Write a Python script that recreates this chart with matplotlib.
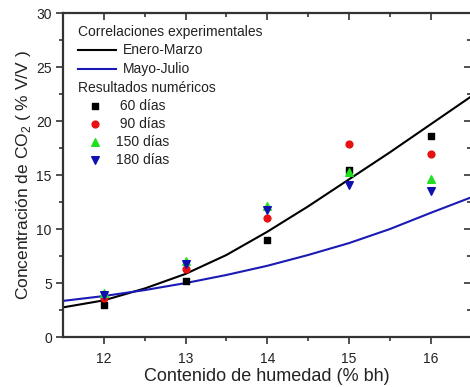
import numpy as np
import matplotlib
matplotlib.use('Agg')
import matplotlib.pyplot as plt

plt.rcParams['font.family'] = ['Liberation Sans', 'DejaVu Sans']
plt.rcParams['mathtext.fontset'] = 'custom'
plt.rcParams['mathtext.rm'] = 'Liberation Sans'

# humedad (% bh) donde se evaluaron los modelos numericos
humedad = [12, 13, 14, 15, 16]
co2_60 = [3.0, 5.2, 9.0, 15.5, 18.6]
co2_90 = [3.6, 6.3, 11.0, 17.9, 17.0]
co2_150 = [4.1, 7.0, 12.1, 15.3, 14.6]
co2_180 = [3.9, 6.8, 11.8, 14.1, 13.5]

# correlaciones experimentales
hum_corr = [11.5, 12.0, 12.5, 13.0, 13.5, 14.0, 14.5, 15.0, 15.5, 16.0, 16.5]
enero_marzo = [2.75, 3.4, 4.5, 5.85, 7.6, 9.75, 12.1, 14.6, 17.1, 19.7, 22.3]
mayo_julio = [3.35, 3.8, 4.35, 5.0, 5.75, 6.6, 7.6, 8.7, 10.0, 11.5, 12.95]

fig = plt.figure(figsize=(4.7, 3.87), dpi=100)
ax = fig.add_axes([0.134, 0.129, 0.869, 0.837])

ax.plot(hum_corr, enero_marzo, color='black', lw=1.5)
ax.plot(hum_corr, mayo_julio, color='#1a1ab4', lw=1.5)

ax.scatter(humedad, co2_60, marker='s', s=20, color='black', zorder=3)
ax.scatter(humedad, co2_90, marker='o', s=24, color='#e81010', zorder=3)
ax.scatter(humedad, co2_150, marker='^', s=30, color='#20e020', zorder=3)
ax.scatter(humedad, co2_180, marker='v', s=30, color='#1010b0', zorder=3)

ax.set_xlim(11.5, 16.5)
ax.set_ylim(0, 30)
ax.set_xticks([12, 13, 14, 15, 16])
ax.set_xticks(np.arange(12.5, 16.5, 1.0), minor=True)
ax.set_yticks([0, 5, 10, 15, 20, 25, 30])
ax.set_yticks(np.arange(2.5, 30, 5.0), minor=True)

for sp in ax.spines.values():
    sp.set_linewidth(1.6)
    sp.set_color('#333333')

ax.tick_params(axis='both', which='both', color='#333333', width=1.2,
               labelsize=10, labelcolor='#222222')
ax.tick_params(axis='both', which='major', length=5, direction='out')
ax.tick_params(axis='both', which='minor', length=3, direction='out')
ax.tick_params(axis='x', pad=6)
ax.tick_params(axis='y', pad=3)

# ticks hacia adentro en los ejes superior y derecho
ax2 = ax.twiny()
ax2.set_xlim(ax.get_xlim())
ax2.set_xticks(ax.get_xticks())
ax2.set_xticks(ax.get_xticks(minor=True), minor=True)
ax2.tick_params(axis='x', which='both', direction='in', labeltop=False,
                color='#333333', width=1.2)
ax2.tick_params(axis='x', which='major', length=5)
ax2.tick_params(axis='x', which='minor', length=3)
ax3 = ax.twinx()
ax3.set_ylim(ax.get_ylim())
ax3.set_yticks(ax.get_yticks())
ax3.set_yticks(ax.get_yticks(minor=True), minor=True)
ax3.tick_params(axis='y', which='both', direction='in', labelright=False,
                color='#333333', width=1.2)
ax3.tick_params(axis='y', which='major', length=5)
ax3.tick_params(axis='y', which='minor', length=3)
for a in (ax2, ax3):
    for sp in a.spines.values():
        sp.set_visible(False)

ax.set_xlabel('Contenido de humedad (% bh)', fontsize=13, color='#222222', labelpad=1)
ax.set_ylabel(r'Concentración de CO$_\mathregular{2}$ ( % V/V )', fontsize=12.5,
              color='#222222', labelpad=2)

# leyenda
tr = ax.transAxes
fs = 10
def ypos(py):
    return (337 - py) / 324.0
def xpos(px):
    return (px - 63) / 408.0

ax.text(xpos(78), ypos(32), 'Correlaciones experimentales', transform=tr,
        fontsize=fs, va='center', ha='left', color='#222222')
ax.plot([xpos(78), xpos(116)], [ypos(50)] * 2, transform=tr, color='black', lw=1.5)
ax.text(xpos(123), ypos(50), 'Enero-Marzo', transform=tr, fontsize=fs,
        va='center', ha='left', color='#222222')
ax.plot([xpos(78), xpos(116)], [ypos(69)] * 2, transform=tr, color='#1a1ab4', lw=1.5)
ax.text(xpos(123), ypos(69), 'Mayo-Julio', transform=tr, fontsize=fs,
        va='center', ha='left', color='#222222')
ax.text(xpos(78), ypos(88), 'Resultados numéricos', transform=tr,
        fontsize=fs, va='center', ha='left', color='#222222')

marcas = [('s', 20, 'black', ' 60 días', 106),
          ('o', 24, '#e81010', ' 90 días', 124),
          ('^', 30, '#20e020', '150 días', 142),
          ('v', 30, '#1010b0', '180 días', 160)]
for mk, sz, col, lab, py in marcas:
    ax.scatter([xpos(95)], [ypos(py)], marker=mk, s=sz, color=col,
               transform=tr, clip_on=False)
    ax.text(xpos(116), ypos(py), lab, transform=tr, fontsize=fs,
            va='center', ha='left', color='#222222')

fig.savefig('out.png', dpi=100)
